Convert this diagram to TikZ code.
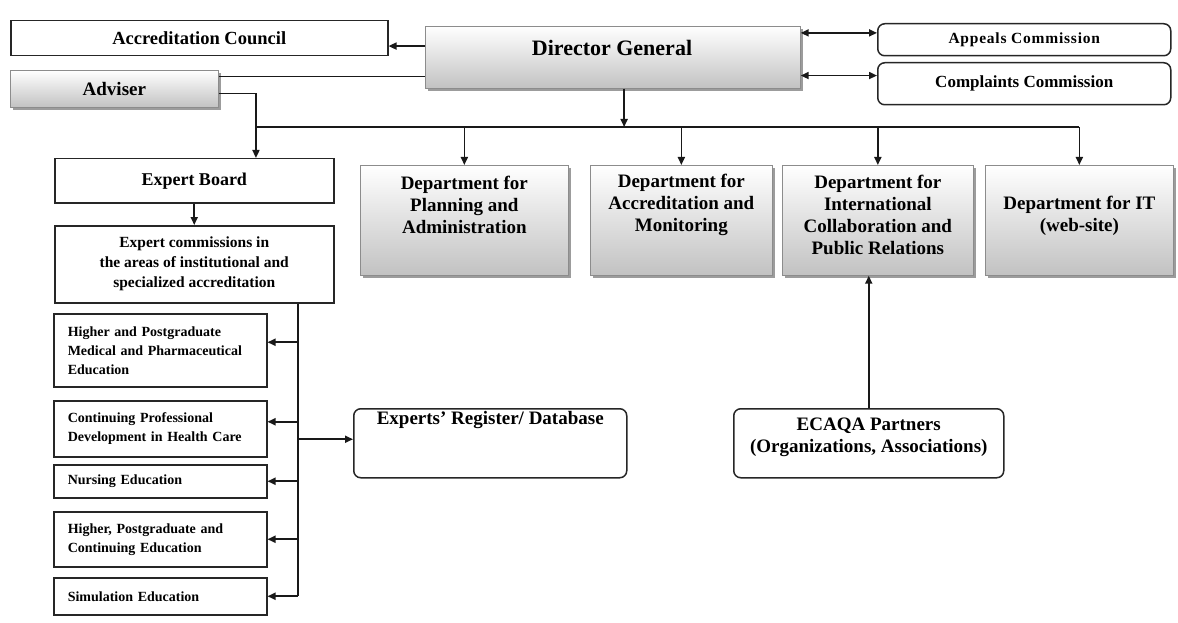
\documentclass[tikz,border=0pt]{standalone}
\usepackage{fontspec}
\setmainfont{Liberation Serif}
\usetikzlibrary{arrows.meta,shadows,calc}
\begin{document}
\begin{tikzpicture}[x=1pt,y=-1pt,
  bx/.style={draw=black!85, line width=1.5pt, anchor=north west, inner sep=0pt, font=\bfseries, fill=white},
  rbx/.style={bx, rounded corners=7pt},
  sbx/.style={anchor=north west, inner sep=0pt, draw=black!45, line width=0.7pt, top color=white, bottom color=black!24, drop shadow={shadow xshift=2.5pt, shadow yshift=-2.5pt, fill=black!55, opacity=0.7}},
  lbl/.style={align=center, inner sep=0pt},
  dep/.style={lbl, font=\bfseries\fontsize{19}{22}\selectfont},
  sub/.style={bx, minimum width=213pt, text width=185pt, inner xsep=14pt, inner ysep=0pt, align=left, font=\bfseries\fontsize{14}{19}\selectfont},
  ln/.style={line width=1.7pt, draw=black!90},
  ar/.style={ln, -{Triangle[length=8pt,width=7pt]}},
  dar/.style={ln, {Triangle[length=8pt,width=7pt]}-{Triangle[length=8pt,width=7pt]}},
]
\useasboundingbox[fill=white] (0,0) rectangle (1178,623);

% top row
\node[bx, minimum width=377pt, minimum height=35pt, font=\bfseries\fontsize{18.5}{20}\selectfont] (ac) at (10,20) {Accreditation Council};
\node[sbx, minimum width=375pt, minimum height=62pt] (dg) at (425,26) {};
\node[lbl, font=\bfseries\fontsize{22}{24}\selectfont] (dgt) at (612,48) {Director General};
\node[sbx, minimum width=208pt, minimum height=37pt, font=\bfseries\fontsize{19}{21}\selectfont] (adv) at (10,70) {Adviser};
\node[rbx, minimum width=293pt, minimum height=32pt, font=\bfseries\fontsize{15.5}{17}\selectfont\addfontfeature{LetterSpace=5}] (ap) at (877,23) {Appeals Commission};
\node[rbx, minimum width=293pt, minimum height=42pt, font=\bfseries\fontsize{17}{19}\selectfont] (cc) at (877,62) {Complaints Commission};

% departments
\node[sbx, minimum width=208pt, minimum height=110pt] (d1) at (360,165) {};
\node[sbx, minimum width=182pt, minimum height=110pt] (d2) at (590,165) {};
\node[sbx, minimum width=191pt, minimum height=110pt] (d3) at (782,165) {};
\node[sbx, minimum width=188pt, minimum height=110pt] (d4) at (985,165) {};
\node[dep] (d1t) at ($(d1.center)+(0,-15)$) {Department for\\Planning and\\Administration};
\node[dep] (d2t) at ($(d2.center)+(0,-15)$) {Department for\\Accreditation and\\Monitoring};
\node[dep] (d3t) at ($(d3.center)+(0,-5)$) {Department for\\International\\Collaboration and\\Public Relations};
\node[dep] (d4t) at ($(d4.center)+(0,-5)$) {Department for IT\\(web-site)};

% expert side
\node[bx, minimum width=279pt, minimum height=44pt, font=\bfseries\fontsize{18}{20}\selectfont] (eb) at (54,158) {Expert Board};
\node[bx, minimum width=279pt, minimum height=77pt, align=center, font=\bfseries\fontsize{15.5}{20}\selectfont] (ec) at (54,225) {Expert commissions in\\the areas of institutional and\\specialized accreditation};

\node[sub, minimum height=73pt] (sA) at (53,313) {Higher and Postgraduate\\Medical and Pharmaceutical\\Education};
\node[sub, minimum height=56pt] (sB) at (53,400) {Continuing Professional\\Development in Health Care};
\node[sub, minimum height=33pt] (sC) at (53,464) {Nursing Education};
\node[sub, minimum height=55pt] (sD) at (53,511) {Higher, Postgraduate and\\Continuing Education};
\node[sub, minimum height=37pt] (sE) at (53,577) {Simulation Education};

\node[rbx, minimum width=273pt, minimum height=69pt] (er) at (353,408) {};
\node[lbl, font=\bfseries\fontsize{19}{22}\selectfont] (ert) at ($(er.north)+(0,12)$) {Experts’ Register/ Database};
\node[rbx, minimum width=270pt, minimum height=69pt] (pa) at (733,408) {};
\node[dep] (pat) at ($(pa.center)+(0,-6)$) {ECAQA Partners\\(Organizations, Associations)};

% connectors
\coordinate (bus) at (0,127);
\draw[ar] ($(dg.north west)!0.32!(dg.south west)$) coordinate (acf) -- (acf -| ac.east);
\draw[dar] ($(dg.north east)!0.11!(dg.south east)$) coordinate (apf) -- (apf -| ap.west);
\draw[dar] ($(dg.north east)!0.79!(dg.south east)$) coordinate (ccf) -- (ccf -| cc.west);
\draw[ln] ($(adv.north east)!0.17!(adv.south east)$) coordinate (l1) -- (l1 -| dg.west);
\coordinate (ebin) at ($(eb.north west)!0.72!(eb.north east)$);
\draw[ln] ($(adv.north east)!0.62!(adv.south east)$) -| (ebin |- bus) -- (d4.north |- bus);
\draw[ar] (ebin |- bus) -- (ebin);
\draw[ar] ($(dg.south west)!0.53!(dg.south east)$) coordinate (dgo) -- (dgo |- bus);
\foreach \d in {d1,d2,d3,d4} \draw[ar] (\d.north |- bus) -- (\d.north);
\draw[ar] (eb.south) -- (ec.north);
\coordinate (vt) at ($(ec.south west)!0.87!(ec.south east)$);
\draw[ln] (vt) -- (vt |- sE.east);
\draw[ar] ($(vt |- sA.east)+(0,-8)$) coordinate (aA) -- (aA -| sA.east);
\draw[ar] ($(vt |- sB.east)+(0,-7)$) coordinate (aB) -- (aB -| sB.east);
\foreach \n in {sC,sD,sE} \draw[ar] (vt |- \n.east) -- (\n.east);
\draw[ar] ($(vt |- er.west)+(0,-4)$) coordinate (aE) -- (aE -| er.west);
\draw[ar] (pa.north) -- (pa.north |- d3.south);
\end{tikzpicture}
\end{document}
